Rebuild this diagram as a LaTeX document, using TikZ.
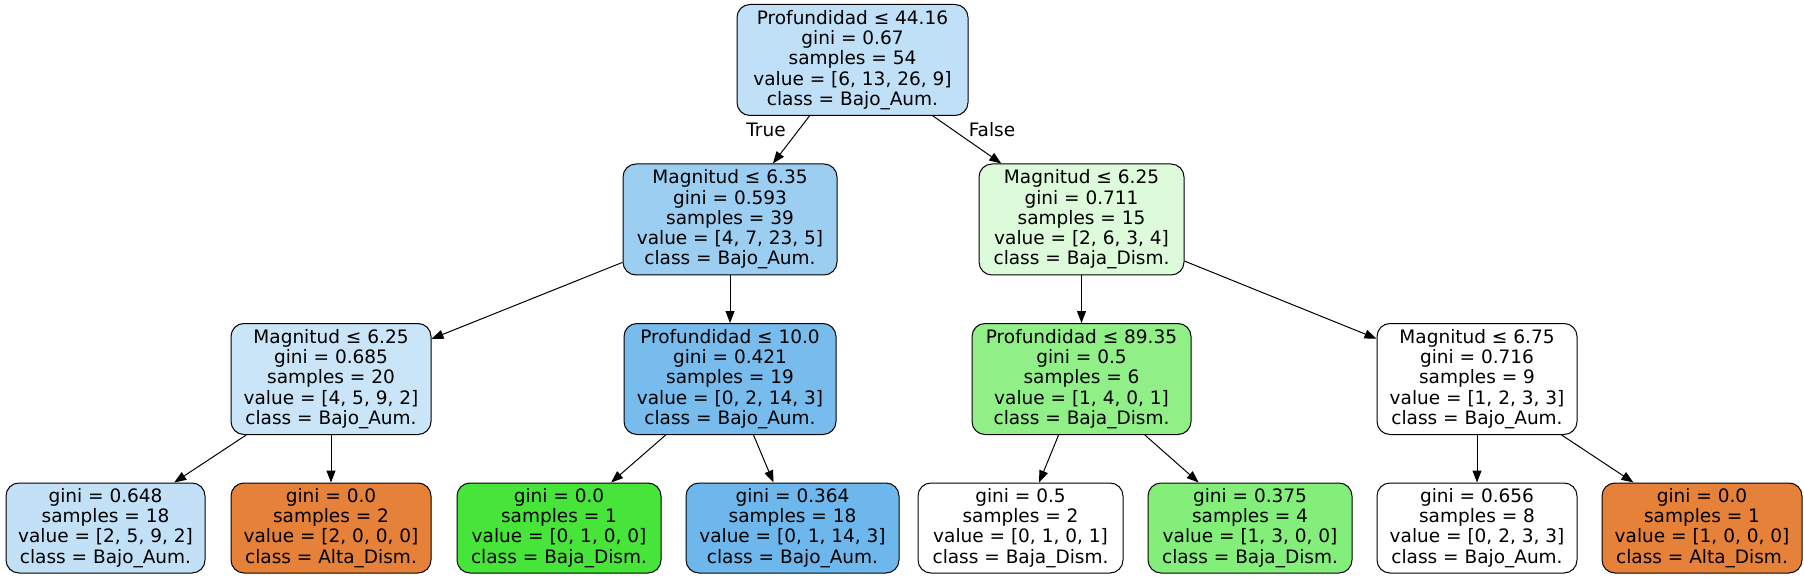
\documentclass[tikz,border=0pt]{standalone}
\usepackage{fontspec}
\setmainfont{DejaVu Sans}
\usetikzlibrary{arrows.meta}
\definecolor{cRoot}{HTML}{C0E0F7}
\definecolor{cLa}{HTML}{9CCEF2}
\definecolor{cLb}{HTML}{DDFADB}
\definecolor{cMa}{HTML}{CAE5F8}
\definecolor{cMb}{HTML}{77BCED}
\definecolor{cMc}{HTML}{91EF88}
\definecolor{cFa}{HTML}{C2E1F7}
\definecolor{cOr}{HTML}{E58139}
\definecolor{cGr}{HTML}{47E539}
\definecolor{cFd}{HTML}{6EB7EC}
\definecolor{cFf}{HTML}{84EE7B}
\tikzset{
  tn/.style={draw=black, line width=1pt, rounded corners=13pt, align=center,
    font=\fontsize{18.5}{20.3}\selectfont, inner sep=0pt, minimum height=111pt},
  leafn/.style={tn, minimum height=90pt},
  edge/.style={draw=black, line width=1pt, -{Triangle[length=12pt,width=9pt]}},
  elab/.style={font=\fontsize{18.5}{20.3}\selectfont, inner sep=0pt}
}
\begin{document}
\begin{tikzpicture}[x=1pt,y=-1pt]
\useasboundingbox (0,0) rectangle (1804,577);
% level 0
\node[tn, fill=cRoot, minimum width=231pt] (root) at (852.5,60)
  {Profundidad ≤ 44.16\\gini = 0.67\\samples = 54\\value = [6, 13, 26, 9]\\class = Bajo\_Aum.};
% level 1
\node[tn, fill=cLa, minimum width=214pt] (la) at (730,219.5)
  {Magnitud ≤ 6.35\\gini = 0.593\\samples = 39\\value = [4, 7, 23, 5]\\class = Bajo\_Aum.};
\node[tn, fill=cLb, minimum width=205pt] (lb) at (1081.5,219.5)
  {Magnitud ≤ 6.25\\gini = 0.711\\samples = 15\\value = [2, 6, 3, 4]\\class = Baja\_Dism.};
% level 2
\node[tn, fill=cMa, minimum width=200pt] (ma) at (331,379)
  {Magnitud ≤ 6.25\\gini = 0.685\\samples = 20\\value = [4, 5, 9, 2]\\class = Bajo\_Aum.};
\node[tn, fill=cMb, minimum width=212pt] (mb) at (730,379)
  {Profundidad ≤ 10.0\\gini = 0.421\\samples = 19\\value = [0, 2, 14, 3]\\class = Bajo\_Aum.};
\node[tn, fill=cMc, minimum width=219pt] (mc) at (1081.5,379)
  {Profundidad ≤ 89.35\\gini = 0.5\\samples = 6\\value = [1, 4, 0, 1]\\class = Baja\_Dism.};
\node[tn, fill=white, minimum width=200pt] (md) at (1477,379)
  {Magnitud ≤ 6.75\\gini = 0.716\\samples = 9\\value = [1, 2, 3, 3]\\class = Bajo\_Aum.};
% leaves
\node[leafn, fill=cFa, minimum width=199pt] (f1) at (105.5,528)
  {gini = 0.648\\samples = 18\\value = [2, 5, 9, 2]\\class = Bajo\_Aum.};
\node[leafn, fill=cOr, minimum width=200pt] (f2) at (331,528)
  {gini = 0.0\\samples = 2\\value = [2, 0, 0, 0]\\class = Alta\_Dism.};
\node[leafn, fill=cGr, minimum width=204pt] (f3) at (559,528)
  {gini = 0.0\\samples = 1\\value = [0, 1, 0, 0]\\class = Baja\_Dism.};
\node[leafn, fill=cFd, minimum width=213pt] (f4) at (792.5,528)
  {gini = 0.364\\samples = 18\\value = [0, 1, 14, 3]\\class = Bajo\_Aum.};
\node[leafn, fill=white, minimum width=205pt] (f5) at (1020.5,528)
  {gini = 0.5\\samples = 2\\value = [0, 1, 0, 1]\\class = Baja\_Dism.};
\node[leafn, fill=cFf, minimum width=204pt] (f6) at (1250,528)
  {gini = 0.375\\samples = 4\\value = [1, 3, 0, 0]\\class = Baja\_Dism.};
\node[leafn, fill=white, minimum width=200pt] (f7) at (1477,528)
  {gini = 0.656\\samples = 8\\value = [0, 2, 3, 3]\\class = Bajo\_Aum.};
\node[leafn, fill=cOr, minimum width=200pt] (f8) at (1702,528)
  {gini = 0.0\\samples = 1\\value = [1, 0, 0, 0]\\class = Alta\_Dism.};
% edges
\draw[edge] (root) -- (la);
\draw[edge] (root) -- (lb);
\draw[edge] (la) -- (ma);
\draw[edge] (la) -- (mb);
\draw[edge] (lb) -- (mc);
\draw[edge] (lb) -- (md);
\draw[edge] (ma) -- (f1);
\draw[edge] (ma) -- (f2);
\draw[edge] (mb) -- (f3);
\draw[edge] (mb) -- (f4);
\draw[edge] (mc) -- (f5);
\draw[edge] (mc) -- (f6);
\draw[edge] (md) -- (f7);
\draw[edge] (md) -- (f8);
% edge labels
\node[elab] (ltrue) at (766,129.5) {True};
\node[elab] (lfalse) at (992,129.5) {False};
\end{tikzpicture}
\end{document}
